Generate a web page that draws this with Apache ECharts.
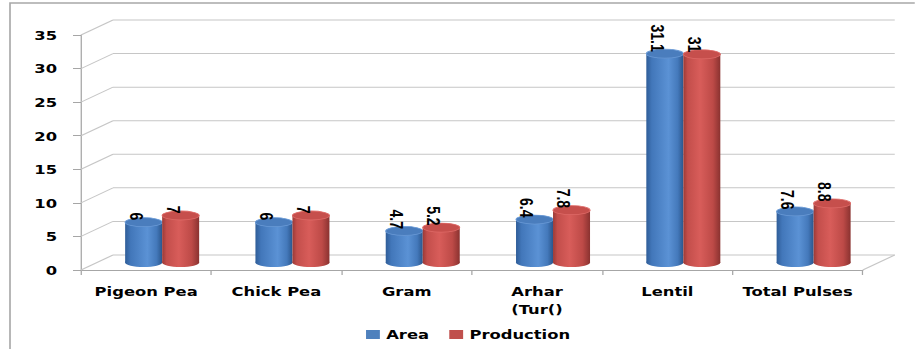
<!DOCTYPE html>
<html>
<head>
<meta charset="utf-8">
<script src="https://cdn.jsdelivr.net/npm/echarts/dist/echarts.min.js"></script>
<style>
  html, body { margin: 0; padding: 0; background: #fff; overflow: hidden; }
  #wrap { width: 915px; height: 349px; overflow: hidden; }
  /* the chart is laid out narrower and widened horizontally */
  #chart { height: 349px; transform-origin: 0 0; }
</style>
</head>
<body>
<div id="wrap"><div id="chart"></div></div>
<script>
// Data
const categories = ['Pigeon Pea', 'Chick Pea', 'Gram', 'Arhar\n(Tur()', 'Lentil', 'Total Pulses'];
const areaValues = [6, 6, 4.7, 6.4, 31.1, 7.6];
const productionValues = [7, 7, 5.2, 7.8, 31, 8.8];
const yTicks = [0, 5, 10, 15, 20, 25, 30, 35];

// Layout helpers
const SX = 1.26;                 // horizontal widening factor
const W = 915 / SX;              // logical width
const DX = 32 / SX, DY = -15;    // depth offset of the back wall
const BAR_RATIO = 0.284;         // cylinder width / category width
const RY = 4.5;                  // cylinder cap half-height

const chartEl = document.getElementById('chart');
chartEl.style.width = W + 'px';
chartEl.style.transform = 'scaleX(' + SX + ')';

const AXIS_GRAY = '#A6A6A6';
const GRID_GRAY = '#C6C6C6';

const palette = {
  Area: {
    base: '#4F81BD',
    body: [[0, '#2F5D98'], [0.15, '#4277BA'], [0.6, '#5B92D5'], [0.85, '#4479BB'], [1, '#2B568C']],
    top: '#4A7DBD', rim: '#6A9AD6'
  },
  Production: {
    base: '#C0504D',
    body: [[0, '#9A3A37'], [0.12, '#C34E4B'], [0.45, '#D85D5A'], [0.8, '#BD4A47'], [1, '#8A3230']],
    top: '#C64F4C', rim: '#DE6A67'
  }
};

function grad(stops) {
  return {
    type: 'linear', x: 0, y: 0, x2: 1, y2: 0,
    colorStops: stops.map(s => ({ offset: s[0], color: s[1] }))
  };
}

// Back wall grid lines, side diagonals and the floor's right edge
function renderWall(params, api) {
  const v = api.value(1);
  const p = api.coord([0, v]);
  const cw = api.size([1, 0])[0];
  const x0 = p[0] - cw / 2;
  const x1 = x0 + cw * categories.length;
  const y = p[1];
  const style = { stroke: GRID_GRAY, lineWidth: 1 };
  const children = [
    { type: 'line', shape: { x1: x0, y1: y, x2: x0 + DX, y2: y + DY }, style },
    { type: 'line', shape: { x1: x0 + DX, y1: y + DY, x2: x1 + DX, y2: y + DY }, style }
  ];
  if (v === 0) {
    children.push({ type: 'line', shape: { x1: x1, y1: y, x2: x1 + DX, y2: y + DY }, style });
  }
  return { type: 'group', children };
}

function makeCylinderRenderer(name, side) {
  const c = palette[name];
  return function (params, api) {
    const i = api.value(0);
    const v = api.value(1);
    const top = api.coord([i, v]);
    const base = api.coord([i, 0]);
    const cw = api.size([1, 0])[0];
    const bw = cw * BAR_RATIO;
    const rx = bw / 2;
    const cx = top[0] + DX / 2 + side * rx;
    const yT = top[1] + DY / 2;
    const yB = base[1] + DY / 2;
    return {
      type: 'group',
      children: [
        { type: 'ellipse', shape: { cx: cx, cy: yB, rx: rx, ry: RY }, style: { fill: grad(c.body) } },
        { type: 'rect', shape: { x: cx - rx, y: yT, width: bw, height: yB - yT }, style: { fill: grad(c.body) } },
        { type: 'ellipse', shape: { cx: cx, cy: yT, rx: rx, ry: RY }, style: { fill: c.top, stroke: c.rim, lineWidth: 0.8 } },
        {
          type: 'text', x: cx - 8 / SX, y: yT - 2, rotation: -Math.PI / 2,
          style: {
            text: String(v), align: 'right', verticalAlign: 'middle',
            fill: '#000', font: 'bold 14px "Liberation Sans", Arial, sans-serif'
          }
        }
      ]
    };
  };
}

const chart = echarts.init(chartEl, null, { renderer: 'svg' });

const labelFont = { color: '#000', fontWeight: 'bold', fontSize: 13, fontFamily: '"DejaVu Sans", Verdana, sans-serif' };

chart.setOption({
  animation: false,
  backgroundColor: '#fff',
  graphic: [{
    type: 'rect', silent: true, z: -10,
    shape: { x: 10 / SX, y: 3, width: W + 20, height: 400 },
    style: { fill: 'none', stroke: '#A8A8A8', lineWidth: 1.3 }
  }],
  grid: { left: 81 / SX, right: W - 863 / SX, top: 35, bottom: 79 },
  legend: {
    data: ['Area', 'Production'],
    icon: 'rect', itemWidth: 11, itemHeight: 9, itemGap: 16,
    left: 285.5, top: 323,
    textStyle: Object.assign({}, labelFont)
  },
  xAxis: {
    type: 'category', data: categories, boundaryGap: true,
    axisLine: { show: true, lineStyle: { color: AXIS_GRAY, width: 1 } },
    axisTick: { show: true, length: 5, lineStyle: { color: AXIS_GRAY } },
    axisLabel: Object.assign({ interval: 0, margin: 12, lineHeight: 18 }, labelFont),
    splitLine: { show: false }
  },
  yAxis: {
    type: 'value', min: 0, max: 35, interval: 5,
    axisLine: { show: true, lineStyle: { color: AXIS_GRAY, width: 1 } },
    axisTick: { show: true, length: 8 / SX, lineStyle: { color: AXIS_GRAY } },
    axisLabel: Object.assign({ margin: 19 }, labelFont),
    splitLine: { show: false }
  },
  series: [
    {
      type: 'custom', name: 'wall', silent: true, z: 1,
      renderItem: renderWall,
      data: yTicks.map(t => [0, t]),
      encode: { x: 0, y: 1 }
    },
    {
      type: 'custom', name: 'Area', z: 3,
      itemStyle: { color: palette.Area.base },
      renderItem: makeCylinderRenderer('Area', -1),
      data: areaValues.map((v, i) => [i, v]),
      encode: { x: 0, y: 1 }
    },
    {
      type: 'custom', name: 'Production', z: 3,
      itemStyle: { color: palette.Production.base },
      renderItem: makeCylinderRenderer('Production', 1),
      data: productionValues.map((v, i) => [i, v]),
      encode: { x: 0, y: 1 }
    }
  ]
});
</script>
</body>
</html>
